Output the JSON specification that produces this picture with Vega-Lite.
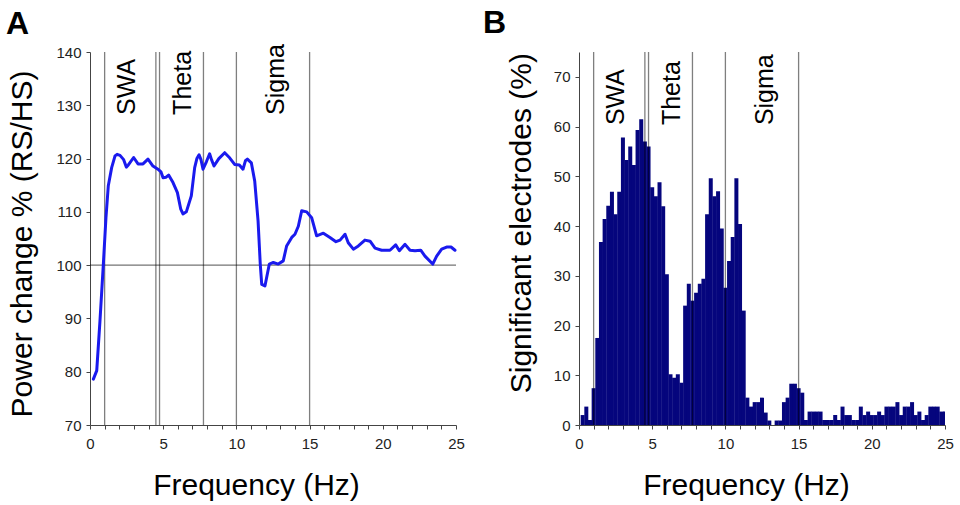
{
  "$schema": "https://vega.github.io/schema/vega-lite/v6.json",
  "autosize": {"type": "pad"},
  "padding": {"left": 6, "top": 7, "right": 0, "bottom": 4},
  "background": "white",
  "bounds": "flush",
  "spacing": 123,
  "config": {
    "font": "Liberation Sans",
    "view": {"stroke": null},
    "axis": {
      "labelFont": "Liberation Sans",
      "labelFontSize": 15,
      "labelColor": "#222",
      "titleFont": "Liberation Sans",
      "titleFontSize": 30,
      "titleFontWeight": "normal",
      "titleColor": "#000",
      "domainColor": "#444",
      "tickColor": "#444",
      "tickSize": 4,
      "labelPadding": 5,
      "grid": false
    },
    "axisX": {"labelPadding": 7},
    "title": {"font": "Liberation Sans", "fontSize": 32, "fontWeight": "bold", "color": "#000", "anchor": "start", "frame": "group", "baseline": "alphabetic"}
  },
  "datasets": {
    "power": [
      {"f": 0.23, "change": 78.6}, {"f": 0.46, "change": 80.2}, {"f": 0.68, "change": 89.5},
      {"f": 0.91, "change": 100.1}, {"f": 1.09, "change": 108.9}, {"f": 1.25, "change": 114.9},
      {"f": 1.48, "change": 118.3}, {"f": 1.71, "change": 120.5}, {"f": 1.85, "change": 120.8},
      {"f": 2.05, "change": 120.6}, {"f": 2.3, "change": 119.8}, {"f": 2.48, "change": 118.4},
      {"f": 2.62, "change": 118.8}, {"f": 2.98, "change": 120.2}, {"f": 3.28, "change": 119.0},
      {"f": 3.62, "change": 119.0}, {"f": 3.96, "change": 119.9}, {"f": 4.3, "change": 118.6},
      {"f": 4.64, "change": 118.0}, {"f": 4.85, "change": 117.5}, {"f": 4.99, "change": 116.4},
      {"f": 5.2, "change": 116.5}, {"f": 5.37, "change": 116.9}, {"f": 5.67, "change": 115.5},
      {"f": 5.97, "change": 113.6}, {"f": 6.2, "change": 110.5}, {"f": 6.35, "change": 109.6},
      {"f": 6.58, "change": 110.0}, {"f": 6.92, "change": 113.0}, {"f": 7.15, "change": 118.3},
      {"f": 7.3, "change": 120.0}, {"f": 7.45, "change": 120.7}, {"f": 7.58, "change": 119.8},
      {"f": 7.72, "change": 118.0}, {"f": 7.95, "change": 119.4}, {"f": 8.17, "change": 120.9},
      {"f": 8.3, "change": 119.8}, {"f": 8.47, "change": 118.6}, {"f": 8.8, "change": 120.0},
      {"f": 9.2, "change": 121.1}, {"f": 9.55, "change": 120.1}, {"f": 9.88, "change": 118.9},
      {"f": 10.2, "change": 118.8}, {"f": 10.45, "change": 118.0}, {"f": 10.62, "change": 119.6},
      {"f": 10.75, "change": 119.9}, {"f": 11.02, "change": 119.2}, {"f": 11.25, "change": 115.8},
      {"f": 11.48, "change": 108.3}, {"f": 11.63, "change": 100.2}, {"f": 11.73, "change": 96.4},
      {"f": 11.95, "change": 96.1}, {"f": 12.25, "change": 100.2}, {"f": 12.52, "change": 100.5},
      {"f": 12.86, "change": 100.2}, {"f": 13.2, "change": 100.8}, {"f": 13.43, "change": 103.6},
      {"f": 13.78, "change": 105.2}, {"f": 14.0, "change": 105.8}, {"f": 14.23, "change": 107.3},
      {"f": 14.46, "change": 110.2}, {"f": 14.8, "change": 110.0}, {"f": 15.14, "change": 108.9},
      {"f": 15.48, "change": 105.5}, {"f": 15.94, "change": 106.0}, {"f": 16.39, "change": 105.2},
      {"f": 16.8, "change": 104.4}, {"f": 17.08, "change": 104.7}, {"f": 17.42, "change": 105.8},
      {"f": 17.64, "change": 104.2}, {"f": 17.99, "change": 103.0}, {"f": 18.33, "change": 103.6},
      {"f": 18.78, "change": 104.7}, {"f": 19.13, "change": 104.5}, {"f": 19.47, "change": 103.2},
      {"f": 19.92, "change": 102.8}, {"f": 20.49, "change": 102.8}, {"f": 20.88, "change": 103.8},
      {"f": 21.13, "change": 102.7}, {"f": 21.52, "change": 103.9}, {"f": 21.86, "change": 102.8},
      {"f": 22.2, "change": 102.7}, {"f": 22.59, "change": 102.8}, {"f": 22.88, "change": 101.7},
      {"f": 23.41, "change": 100.2}, {"f": 23.68, "change": 101.7}, {"f": 24.02, "change": 103.0},
      {"f": 24.36, "change": 103.4}, {"f": 24.66, "change": 103.4}, {"f": 24.93, "change": 102.8}
    ],
    "electrodes": [
      {"f": 0.25, "pct": 2}, {"f": 0.5, "pct": 3.7}, {"f": 0.75, "pct": 1}, {"f": 1.0, "pct": 7.4},
      {"f": 1.25, "pct": 17.5}, {"f": 1.5, "pct": 36.8}, {"f": 1.75, "pct": 41.4}, {"f": 2.0, "pct": 44.1},
      {"f": 2.25, "pct": 46.9}, {"f": 2.5, "pct": 42.4}, {"f": 2.75, "pct": 46.9}, {"f": 3.0, "pct": 57.8},
      {"f": 3.25, "pct": 53.3}, {"f": 3.5, "pct": 56}, {"f": 3.75, "pct": 52.3}, {"f": 4.0, "pct": 59.3},
      {"f": 4.25, "pct": 61.5}, {"f": 4.5, "pct": 57}, {"f": 4.75, "pct": 56}, {"f": 5.0, "pct": 47.8},
      {"f": 5.25, "pct": 46}, {"f": 5.5, "pct": 48.8}, {"f": 5.75, "pct": 44}, {"f": 6.0, "pct": 30.3},
      {"f": 6.25, "pct": 10.2}, {"f": 6.5, "pct": 9.5}, {"f": 6.75, "pct": 10.2}, {"f": 7.0, "pct": 8.5},
      {"f": 7.25, "pct": 24}, {"f": 7.5, "pct": 28.4}, {"f": 7.75, "pct": 25}, {"f": 8.0, "pct": 26.6},
      {"f": 8.25, "pct": 28.4}, {"f": 8.5, "pct": 29.4}, {"f": 8.75, "pct": 42.4}, {"f": 9.0, "pct": 49.6},
      {"f": 9.25, "pct": 46}, {"f": 9.5, "pct": 47}, {"f": 9.75, "pct": 39.5}, {"f": 10.0, "pct": 27.6},
      {"f": 10.25, "pct": 33}, {"f": 10.5, "pct": 37.8}, {"f": 10.75, "pct": 49.6}, {"f": 11.0, "pct": 40.4},
      {"f": 11.25, "pct": 23}, {"f": 11.5, "pct": 5.5}, {"f": 11.75, "pct": 3.7}, {"f": 12.0, "pct": 4.6},
      {"f": 12.25, "pct": 4.6}, {"f": 12.5, "pct": 5.5}, {"f": 12.75, "pct": 2.5}, {"f": 13.0, "pct": 0.9},
      {"f": 13.25, "pct": 0}, {"f": 13.5, "pct": 0.9}, {"f": 13.75, "pct": 0.9}, {"f": 14.0, "pct": 4.6},
      {"f": 14.25, "pct": 5.5}, {"f": 14.5, "pct": 8.3}, {"f": 14.75, "pct": 8.3}, {"f": 15.0, "pct": 7.4},
      {"f": 15.25, "pct": 6.5}, {"f": 15.5, "pct": 1}, {"f": 15.75, "pct": 2.7}, {"f": 16.0, "pct": 2.7},
      {"f": 16.25, "pct": 2.7}, {"f": 16.5, "pct": 2.7}, {"f": 16.75, "pct": 1}, {"f": 17.0, "pct": 1},
      {"f": 17.25, "pct": 1}, {"f": 17.5, "pct": 2}, {"f": 17.75, "pct": 1}, {"f": 18.0, "pct": 3.7},
      {"f": 18.25, "pct": 2}, {"f": 18.5, "pct": 2}, {"f": 18.75, "pct": 1}, {"f": 19.0, "pct": 1},
      {"f": 19.25, "pct": 3.7}, {"f": 19.5, "pct": 2}, {"f": 19.75, "pct": 2.7}, {"f": 20.0, "pct": 2},
      {"f": 20.25, "pct": 2}, {"f": 20.5, "pct": 2.7}, {"f": 20.75, "pct": 2}, {"f": 21.0, "pct": 3.7},
      {"f": 21.25, "pct": 3.7}, {"f": 21.5, "pct": 3.7}, {"f": 21.75, "pct": 4.6}, {"f": 22.0, "pct": 2},
      {"f": 22.25, "pct": 3.7}, {"f": 22.5, "pct": 3.7}, {"f": 22.75, "pct": 4.6}, {"f": 23.0, "pct": 2},
      {"f": 23.25, "pct": 2.7}, {"f": 23.5, "pct": 1}, {"f": 23.75, "pct": 2}, {"f": 24.0, "pct": 3.7},
      {"f": 24.25, "pct": 3.7}, {"f": 24.5, "pct": 3.7}, {"f": 24.75, "pct": 2.7}, {"f": 25.0, "pct": 2.7}
    ],
    "bounds": [{"f": 1}, {"f": 4.5}, {"f": 4.75}, {"f": 7.75}, {"f": 10}, {"f": 15}],
    "reference": [{"f": 0, "fEnd": 25, "change": 100}],
    "bands": [
      {"band": "SWA", "f": 2.5},
      {"band": "Theta", "f": 6.35},
      {"band": "Sigma", "f": 12.7}
    ]
  },
  "hconcat": [
    {
      "width": 366,
      "height": 373,
      "title": {"text": "A", "dx": -84, "offset": 3},
      "encoding": {
        "x": {
          "field": "f",
          "type": "quantitative",
          "title": "Frequency (Hz)",
          "scale": {"domain": [0, 25], "nice": false, "padding": 0},
          "axis": {
            "values": [0, 1, 2, 3, 4, 5, 6, 7, 8, 9, 10, 11, 12, 13, 14, 15, 16, 17, 18, 19, 20, 21, 22, 23, 24, 25],
            "labelExpr": "datum.value % 5 === 0 ? datum.label : ''",
            "labelOverlap": false,
            "labelFlush": false,
            "titleX": 166,
            "titleY": 69,
            "titleBaseline": "alphabetic",
            "titleAlign": "center"
          }
        }
      },
      "layer": [
        {
          "data": {"name": "bounds"},
          "mark": {"type": "rule", "color": "#000", "opacity": 0.5, "strokeWidth": 1.3},
          "encoding": {}
        },
        {
          "data": {"name": "reference"},
          "mark": {"type": "rule", "color": "#000", "opacity": 0.55, "strokeWidth": 1.3},
          "encoding": {
            "x2": {"field": "fEnd"},
            "y": {"field": "change", "type": "quantitative", "scale": {"domain": [70, 140], "nice": false, "zero": false}}
          }
        },
        {
          "data": {"name": "power"},
          "mark": {"type": "line", "color": "#1a1aee", "strokeWidth": 3, "strokeJoin": "round", "strokeCap": "round"},
          "encoding": {
            "y": {
              "field": "change",
              "type": "quantitative",
              "title": "Power change % (RS/HS)",
              "scale": {"domain": [70, 140], "nice": false, "zero": false},
              "axis": {
                "values": [70, 80, 90, 100, 110, 120, 130, 140],
                "titleX": -58.5,
                "titleY": 191.5,
                "titleBaseline": "alphabetic",
                "titleAlign": "center",
                "titleAngle": -90
              }
            }
          }
        },
        {
          "data": {"name": "bands"},
          "mark": {"type": "text", "angle": 270, "align": "left", "baseline": "middle", "fontSize": 25, "color": "#000"},
          "encoding": {
            "y": {"datum": 128.2, "type": "quantitative", "scale": {"domain": [70, 140], "nice": false, "zero": false}},
            "text": {"field": "band", "type": "nominal"}
          }
        }
      ]
    },
    {
      "width": 366,
      "height": 373,
      "title": {"text": "B", "dx": -96, "offset": 11},
      "encoding": {
        "x": {
          "field": "f",
          "type": "quantitative",
          "title": "Frequency (Hz)",
          "scale": {"domain": [0, 25], "nice": false, "padding": 0},
          "axis": {
            "values": [0, 1, 2, 3, 4, 5, 6, 7, 8, 9, 10, 11, 12, 13, 14, 15, 16, 17, 18, 19, 20, 21, 22, 23, 24, 25],
            "labelExpr": "datum.value % 5 === 0 ? datum.label : ''",
            "labelOverlap": false,
            "labelFlush": false,
            "titleX": 167,
            "titleY": 69,
            "titleBaseline": "alphabetic",
            "titleAlign": "center"
          }
        }
      },
      "layer": [
        {
          "data": {"name": "electrodes"},
          "mark": {"type": "bar", "color": "#05057d", "width": 4, "clip": true},
          "encoding": {
            "y": {
              "field": "pct",
              "type": "quantitative",
              "title": "Significant electrodes (%)",
              "scale": {"domain": [0, 75], "nice": false},
              "axis": {
                "values": [0, 10, 20, 30, 40, 50, 60, 70],
                "titleX": -49,
                "titleY": 170.7,
                "titleBaseline": "alphabetic",
                "titleAlign": "center",
                "titleAngle": -90
              }
            }
          }
        },
        {
          "data": {"name": "bounds"},
          "mark": {"type": "rule", "color": "#000", "opacity": 0.5, "strokeWidth": 1.3},
          "encoding": {}
        },
        {
          "data": {"name": "bands"},
          "mark": {"type": "text", "angle": 270, "align": "left", "baseline": "middle", "fontSize": 25, "color": "#000"},
          "encoding": {
            "y": {"datum": 60.3, "type": "quantitative", "scale": {"domain": [0, 75], "nice": false}},
            "text": {"field": "band", "type": "nominal"}
          }
        }
      ]
    }
  ]
}
